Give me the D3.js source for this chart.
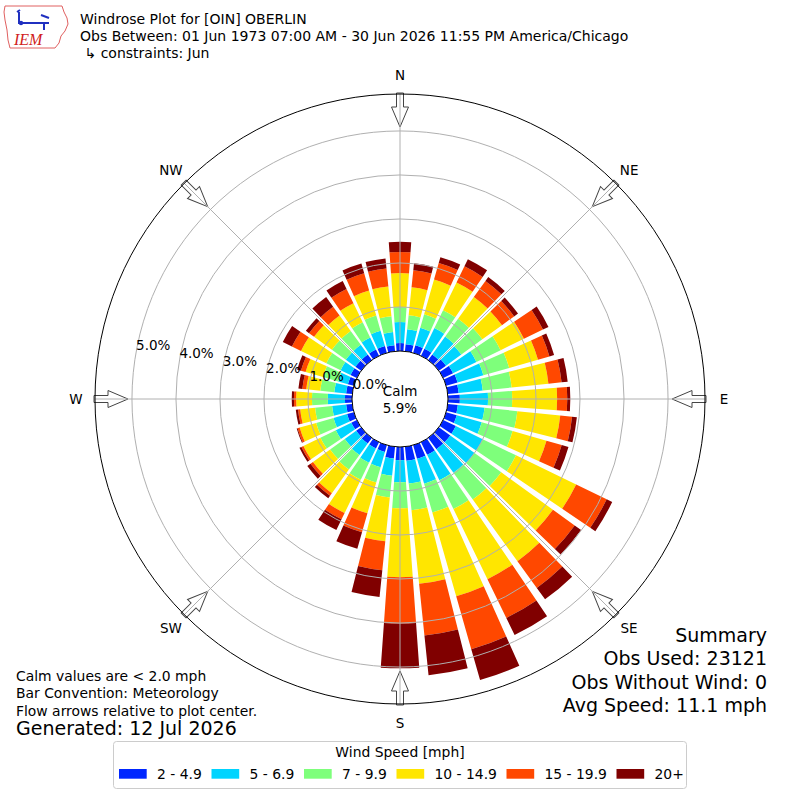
<!DOCTYPE html>
<html>
<head>
<meta charset="utf-8">
<script src="https://cdn.jsdelivr.net/npm/d3@7"></script>
<style>
  body { margin: 0; background: #fff; }
  svg { display: block; font-family: "DejaVu Sans", sans-serif; }
</style>
</head>
<body>
<div id="grafico"></div>
<script>
// --- 1. DATI ---
const direzioni = [0, 10, 20, 30, 40, 50, 60, 70, 80, 90, 100, 110, 120, 130, 140, 150, 160, 170,
                   180, 190, 200, 210, 220, 230, 240, 250, 260, 270, 280, 290, 300, 310, 320, 330, 340, 350];
const classiVento = ["2 - 4.9", "5 - 6.9", "7 - 9.9", "10 - 14.9", "15 - 19.9", "20+"];
const colori = ["#0026ff", "#00d4ff", "#7eff7b", "#ffe600", "#ff4800", "#800000"];

// frequenza (%) per classe di velocita', nello stesso ordine di 'direzioni'
const vel2 = [0.18, 0.16, 0.18, 0.18, 0.16, 0.20, 0.25, 0.27, 0.25, 0.27, 0.23, 0.25, 0.32, 0.32, 0.32, 0.32, 0.32, 0.32,
              0.30, 0.27, 0.16, 0.16, 0.16, 0.14, 0.14, 0.16, 0.14, 0.16, 0.14, 0.14, 0.16, 0.16, 0.16, 0.16, 0.16, 0.14];
const vel5 = [0.48, 0.34, 0.41, 0.52, 0.50, 0.43, 0.59, 0.61, 0.55, 0.64, 0.61, 0.59, 0.68, 0.68, 0.66, 0.64, 0.59, 0.52,
              0.50, 0.39, 0.36, 0.36, 0.32, 0.32, 0.39, 0.32, 0.32, 0.39, 0.27, 0.23, 0.25, 0.27, 0.27, 0.30, 0.36, 0.30];
const vel7 = [0.34, 0.32, 0.32, 0.45, 0.50, 0.59, 0.61, 0.61, 0.66, 0.55, 0.75, 0.73, 0.84, 0.75, 0.75, 0.73, 0.68, 0.61,
              0.59, 0.50, 0.36, 0.43, 0.41, 0.41, 0.39, 0.41, 0.39, 0.36, 0.32, 0.36, 0.36, 0.39, 0.39, 0.39, 0.36, 0.36];
const vel10 = [0.77, 0.64, 0.82, 0.70, 0.61, 0.55, 0.59, 0.68, 0.84, 1.02, 0.98, 0.80, 1.52, 1.45, 1.73, 1.77, 1.98, 1.68,
               1.57, 1.00, 0.73, 0.84, 0.66, 0.48, 0.43, 0.39, 0.34, 0.36, 0.32, 0.41, 0.64, 0.50, 0.43, 0.48, 0.59, 0.68];
const vel15 = [0.48, 0.39, 0.39, 0.41, 0.45, 0.34, 0.48, 0.27, 0.30, 0.23, 0.27, 0.36, 0.77, 0.61, 0.75, 0.98, 1.25, 1.18,
               1.05, 0.66, 0.45, 0.16, 0.07, 0.07, 0.05, 0.05, 0.05, 0.05, 0.09, 0.11, 0.23, 0.14, 0.25, 0.36, 0.41, 0.41];
const vel20 = [0.23, 0.16, 0.14, 0.18, 0.11, 0.11, 0.14, 0.11, 0.14, 0.07, 0.11, 0.16, 0.14, 0.18, 0.32, 0.43, 0.73, 0.91,
               1.02, 0.61, 0.39, 0.27, 0.07, 0.09, 0.05, 0.02, 0.05, 0.05, 0.09, 0.09, 0.23, 0.09, 0.27, 0.20, 0.23, 0.23];

const anelli = [0, 1, 2, 3, 4, 5];
const punti = ["N", "NE", "E", "SE", "S", "SW", "W", "NW"];
const calma = 5.9;

const titolo = [
  "Windrose Plot for [OIN] OBERLIN",
  "Obs Between: 01 Jun 1973 07:00 AM - 30 Jun 2026 11:55 PM America/Chicago",
  " \u21b3 constraints: Jun"
];
const note = ["Calm values are < 2.0 mph", "Bar Convention: Meteorology", "Flow arrows relative to plot center."];
const generato = "Generated: 12 Jul 2026";
const sommario = ["Summary", "Obs Used: 23121", "Obs Without Wind: 0", "Avg Speed: 11.1 mph"];

// --- 2. IMPOSTAZIONI DEL GRAFICO ---
const width = 800, height = 800;
const cx = 400, cy = 399;
const raggioCalma = 48, raggioMax = 305;

const svg = d3.select("#grafico")
  .append("svg")
    .attr("width", width)
    .attr("height", height);

const rose = svg.append("g")
    .attr("transform", `translate(${cx},${cy})`);

// scala radiale (percentuale -> pixel) e angolare (gradi -> radianti)
const r = d3.scaleLinear().domain([0, 5.84]).range([raggioCalma, raggioMax]);
const ang = d3.scaleLinear().domain([0, 360]).range([0, 2 * Math.PI]);
const apertura = 8.2; // gradi occupati da ogni barra

// tabella per d3.stack
const serie = [vel2, vel5, vel7, vel10, vel15, vel20];
const tabella = direzioni.map((d, i) => {
  const riga = {dir: d};
  classiVento.forEach((c, k) => riga[c] = serie[k][i]);
  return riga;
});
const pila = d3.stack().keys(classiVento)(tabella);

// --- 3. BARRE ---
const arco = d3.arc()
  .innerRadius(d => r(d[0]))
  .outerRadius(d => r(d[1]))
  .startAngle(d => ang(d.data.dir - apertura / 2))
  .endAngle(d => ang(d.data.dir + apertura / 2));

rose.selectAll("g.strato")
  .data(pila)
  .join("g")
    .attr("class", "strato")
    .attr("fill", (d, i) => colori[i])
  .selectAll("path")
  .data(d => d)
  .join("path")
    .attr("d", arco);

// --- 4. FRECCE DI FLUSSO ---
const freccia = [[-3.5, -raggioMax - 1], [3.5, -raggioMax - 1], [3.5, -292], [8.5, -292],
                 [0, -272], [-8.5, -292], [-3.5, -292]];
rose.selectAll("polygon.freccia")
  .data(d3.range(0, 360, 45))
  .join("polygon")
    .attr("class", "freccia")
    .attr("points", freccia.map(p => p.join(",")).join(" "))
    .attr("transform", d => `rotate(${d})`)
    .attr("fill", "#fff")
    .attr("stroke", "#444")
    .attr("stroke-width", 1);

// --- 5. GRIGLIA ---
rose.selectAll("circle.anello")
  .data(anelli.slice(1))
  .join("circle")
    .attr("class", "anello")
    .attr("r", d => r(d))
    .attr("fill", "none")
    .attr("stroke", "#b0b0b0")
    .attr("stroke-width", 1);

rose.selectAll("line.raggio")
  .data(d3.range(0, 360, 45))
  .join("line")
    .attr("class", "raggio")
    .attr("x1", 0).attr("y1", 0)
    .attr("x2", d => raggioMax * Math.sin(ang(d)))
    .attr("y2", d => -raggioMax * Math.cos(ang(d)))
    .attr("stroke", "#b0b0b0")
    .attr("stroke-width", 1);

// cerchio esterno e cerchio della calma
rose.append("circle")
    .attr("r", raggioMax)
    .attr("fill", "none")
    .attr("stroke", "#000")
    .attr("stroke-width", 1);

rose.append("circle")
    .attr("r", raggioCalma)
    .attr("fill", "#fff")
    .attr("stroke", "#000")
    .attr("stroke-width", 1);

rose.append("text")
    .attr("text-anchor", "middle")
    .attr("font-size", 13.5)
    .selectAll("tspan")
    .data(["Calm", calma.toFixed(1) + "%"])
    .join("tspan")
      .attr("x", 0)
      .attr("y", (d, i) => -3 + i * 17)
      .text(d => d);

// etichette radiali (a 280 gradi)
const angEtichette = ang(280);
rose.selectAll("text.etich-r")
  .data(anelli)
  .join("text")
    .attr("class", "etich-r")
    .attr("x", d => r(d) * Math.sin(angEtichette))
    .attr("y", d => -r(d) * Math.cos(angEtichette) - 2)
    .attr("font-size", 13.5)
    .text(d => d.toFixed(1) + "%");

// punti cardinali
rose.selectAll("text.punto")
  .data(punti)
  .join("text")
    .attr("class", "punto")
    .attr("x", (d, i) => 324 * Math.sin(ang(i * 45)))
    .attr("y", (d, i) => -324 * Math.cos(ang(i * 45)))
    .attr("text-anchor", "middle")
    .attr("dominant-baseline", "central")
    .attr("font-size", 13.5)
    .text(d => d);

// --- 6. TESTI ---
svg.append("g").selectAll("text")
  .data(titolo)
  .join("text")
    .attr("x", 80)
    .attr("y", (d, i) => 24 + i * 17)
    .attr("font-size", 14)
    .attr("xml:space", "preserve")
    .text(d => d);

svg.append("g").selectAll("text")
  .data(note)
  .join("text")
    .attr("x", 16)
    .attr("y", (d, i) => 681 + i * 17.3)
    .attr("font-size", 13.9)
    .text(d => d);

svg.append("text")
    .attr("x", 16)
    .attr("y", 735)
    .attr("font-size", 19)
    .text(generato);

svg.append("g").selectAll("text")
  .data(sommario)
  .join("text")
    .attr("x", 767)
    .attr("y", (d, i) => 642 + i * 23.3)
    .attr("text-anchor", "end")
    .attr("font-size", 19)
    .text(d => d);

// --- 7. LEGENDA ---
const legenda = svg.append("g");
legenda.append("rect")
    .attr("x", 113.5).attr("y", 741.5)
    .attr("width", 573).attr("height", 47)
    .attr("rx", 3)
    .attr("fill", "#fff")
    .attr("stroke", "#cccccc");
legenda.append("text")
    .attr("x", 400).attr("y", 757)
    .attr("text-anchor", "middle")
    .attr("font-size", 13.9)
    .text("Wind Speed [mph]");

const xLegenda = [119, 211.5, 304, 396.5, 506.5, 616.5];
const voce = legenda.selectAll("g.voce")
  .data(classiVento)
  .join("g")
    .attr("class", "voce")
    .attr("transform", (d, i) => `translate(${xLegenda[i]},769)`);
voce.append("rect")
    .attr("width", 27.7).attr("height", 9.7)
    .attr("fill", (d, i) => colori[i]);
voce.append("text")
    .attr("x", 38).attr("y", 10)
    .attr("font-size", 13.9)
    .text(d => d);

// --- 8. LOGO IEM ---
const logo = svg.append("g");
logo.append("path")
    .attr("d", "M5,6 L62,6 L64,12 L67,18 L68,24 L65,31 L61,36 L59,43 L55,48 L10,48 L8,40 L7,30 L5,20 L4,12 Z")
    .attr("fill", "none")
    .attr("stroke", "#e06060")
    .attr("stroke-width", 1);
logo.append("path")
    .attr("d", "M19,12 L19,24 M19,23 L49,23 M41,15 L49,18 M44,23 L44,30 M17,12 L20,10")
    .attr("fill", "none")
    .attr("stroke", "#2030c0")
    .attr("stroke-width", 2);
logo.append("circle").attr("cx", 21).attr("cy", 23).attr("r", 2.2).attr("fill", "#2030c0");
logo.append("text")
    .attr("x", 14).attr("y", 45)
    .attr("font-family", "Liberation Serif, serif")
    .attr("font-style", "italic")
    .attr("font-size", 16)
    .attr("fill", "#d02020")
    .text("IEM");
</script>
</body>
</html>
